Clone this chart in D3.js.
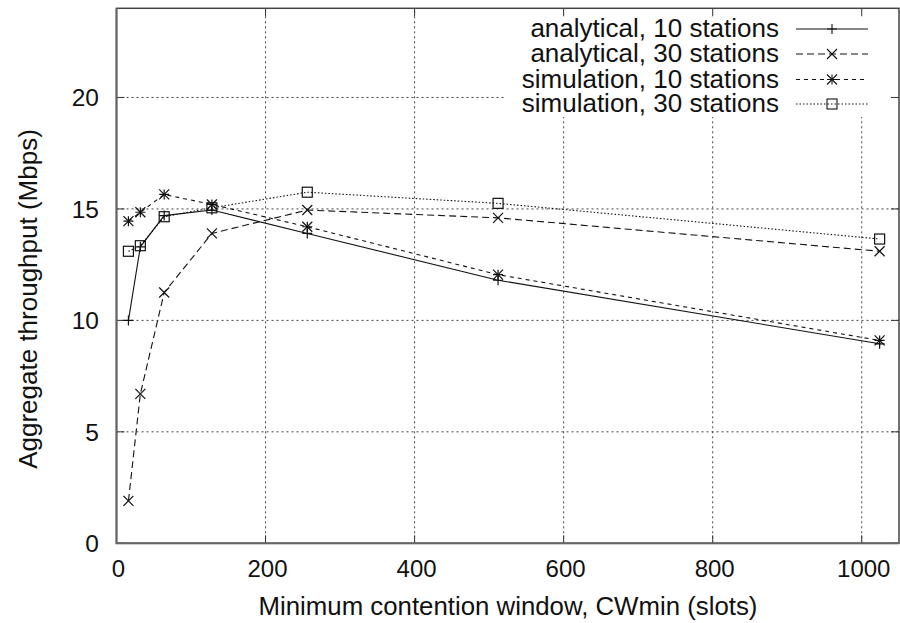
<!DOCTYPE html>
<html>
<head>
<meta charset="utf-8">
<script src="https://cdn.jsdelivr.net/npm/d3@7"></script>
<style>
  body { margin: 0; background: #fff; }
  text { font-family: "Liberation Sans", Arial, sans-serif; fill: #111; }
</style>
</head>
<body>
<svg width="900" height="623"></svg>
<script>
// CWmin values (slots) and throughput series (Mbps)
var cwmin = [16, 32, 64, 128, 256, 512, 1024];
var ana10 = [10.0, 13.3, 14.7, 14.95, 13.9, 11.8, 8.95];
var ana30 = [1.9, 6.7, 11.25, 13.9, 14.95, 14.6, 13.1];
var sim10 = [14.45, 14.85, 15.65, 15.2, 14.2, 12.05, 9.1];
var sim30 = [13.1, 13.35, 14.65, 15.05, 15.75, 15.25, 13.65];

var seriesNames = ["analytical, 10 stations", "analytical, 30 stations",
                   "simulation, 10 stations", "simulation, 30 stations"];
var xTicks = [0, 200, 400, 600, 800, 1000];
var yTicks = [0, 5, 10, 15, 20];

var svg = d3.select("svg"),
    plotLeft = 116.5, plotRight = 899, plotTop = 8.3, plotBottom = 543.3;

var x = d3.scaleLinear().domain([0, 1050]).range([plotLeft, plotRight]),
    y = d3.scaleLinear().domain([0, 24]).range([plotBottom, plotTop]);

var styles = [
  { dash: null,    marker: "plus" },
  { dash: "7,4",   marker: "cross" },
  { dash: "4,4",   marker: "star" },
  { dash: "1.5,2", marker: "square" }
];
var allSeries = [ana10, ana30, sim10, sim30];

// grid
var grid = svg.append("g").attr("stroke", "#444").attr("stroke-width", 1)
    .attr("stroke-dasharray", "2,3");
xTicks.filter(function(t) { return t > 0; }).forEach(function(t) {
  // legend box hides grid behind it
  var yEnd = x(t) > 505 ? 117 : plotTop;
  grid.append("line").attr("x1", x(t)).attr("x2", x(t)).attr("y1", plotBottom).attr("y2", yEnd);
});
yTicks.filter(function(t) { return t > 0; }).forEach(function(t) {
  var xEnd = y(t) < 117 ? 505 : plotRight;
  grid.append("line").attr("x1", plotLeft).attr("x2", xEnd).attr("y1", y(t)).attr("y2", y(t));
});

// ticks (inside, all four sides)
var ticks = svg.append("g").attr("stroke", "#333").attr("stroke-width", 1);
xTicks.forEach(function(t) {
  ticks.append("line").attr("x1", x(t)).attr("x2", x(t)).attr("y1", plotBottom).attr("y2", plotBottom - 8);
  ticks.append("line").attr("x1", x(t)).attr("x2", x(t)).attr("y1", plotTop).attr("y2", plotTop + 8);
});
yTicks.forEach(function(t) {
  ticks.append("line").attr("x1", plotLeft).attr("x2", plotLeft + 8).attr("y1", y(t)).attr("y2", y(t));
  ticks.append("line").attr("x1", plotRight).attr("x2", plotRight - 8).attr("y1", y(t)).attr("y2", y(t));
});

// frame
svg.append("rect").attr("x", plotLeft).attr("y", plotTop)
    .attr("width", plotRight - plotLeft).attr("height", plotBottom - plotTop)
    .attr("fill", "none").attr("stroke", "#444").attr("stroke-width", 1.5);
svg.append("path")
    .attr("d", "M" + plotLeft + "," + plotTop + "V" + plotBottom + "H" + plotRight)
    .attr("fill", "none").attr("stroke", "#666").attr("stroke-width", 2);

// tick labels
svg.append("g").selectAll("text").data(xTicks).enter().append("text")
    .attr("x", function(d) { return x(d) + 2; })
    .attr("y", 577)
    .attr("text-anchor", "middle")
    .style("font-size", "24px")
    .text(function(d) { return d; });
svg.append("g").selectAll("text").data(yTicks).enter().append("text")
    .attr("x", 99)
    .attr("y", function(d) { return y(d) + 9; })
    .attr("text-anchor", "end")
    .style("font-size", "24.5px")
    .text(function(d) { return d; });

// axis titles
svg.append("text")
    .attr("x", 508).attr("y", 615)
    .attr("text-anchor", "middle")
    .style("font-size", "25.8px")
    .text("Minimum contention window, CWmin (slots)");
svg.append("text")
    .attr("transform", "translate(37,299) rotate(-90)")
    .attr("text-anchor", "middle")
    .style("font-size", "26px")
    .text("Aggregate throughput (Mbps)");

function drawMarker(g, type, cx, cy) {
  var s = 5;
  if (type === "plus" || type === "star") {
    g.append("path").attr("d", "M" + (cx - s) + "," + cy + "H" + (cx + s) + "M" + cx + "," + (cy - s) + "V" + (cy + s));
  }
  if (type === "cross" || type === "star") {
    g.append("path").attr("d", "M" + (cx - s) + "," + (cy - s) + "L" + (cx + s) + "," + (cy + s) +
                               "M" + (cx - s) + "," + (cy + s) + "L" + (cx + s) + "," + (cy - s));
  }
  if (type === "square") {
    g.append("rect").attr("x", cx - 5).attr("y", cy - 5).attr("width", 10).attr("height", 10)
        .attr("fill", "none");
  }
}

// lines and points
var line = d3.line()
    .x(function(d, i) { return x(cwmin[i]); })
    .y(function(d) { return y(d); });

allSeries.forEach(function(vals, k) {
  var g = svg.append("g").attr("stroke", "#111").attr("stroke-width", 1.1).attr("fill", "none");
  g.append("path").datum(vals).attr("d", line)
      .attr("stroke-dasharray", styles[k].dash);
  var mg = svg.append("g").attr("stroke", "#111").attr("stroke-width", 1.2).attr("fill", "none");
  vals.forEach(function(v, i) { drawMarker(mg, styles[k].marker, x(cwmin[i]), y(v)); });
});

// legend
var legendRows = [29, 54, 79.5, 104];
seriesNames.forEach(function(name, k) {
  var ly = legendRows[k];
  svg.append("text")
      .attr("x", 779).attr("y", ly + 8)
      .attr("text-anchor", "end")
      .style("font-size", "26px")
      .text(name);
  var g = svg.append("g").attr("stroke", "#111").attr("stroke-width", 1.1).attr("fill", "none");
  g.append("line").attr("x1", 796).attr("x2", 868).attr("y1", ly).attr("y2", ly)
      .attr("stroke-dasharray", styles[k].dash);
  drawMarker(g, styles[k].marker, 832, ly);
});
</script>
</body>
</html>
